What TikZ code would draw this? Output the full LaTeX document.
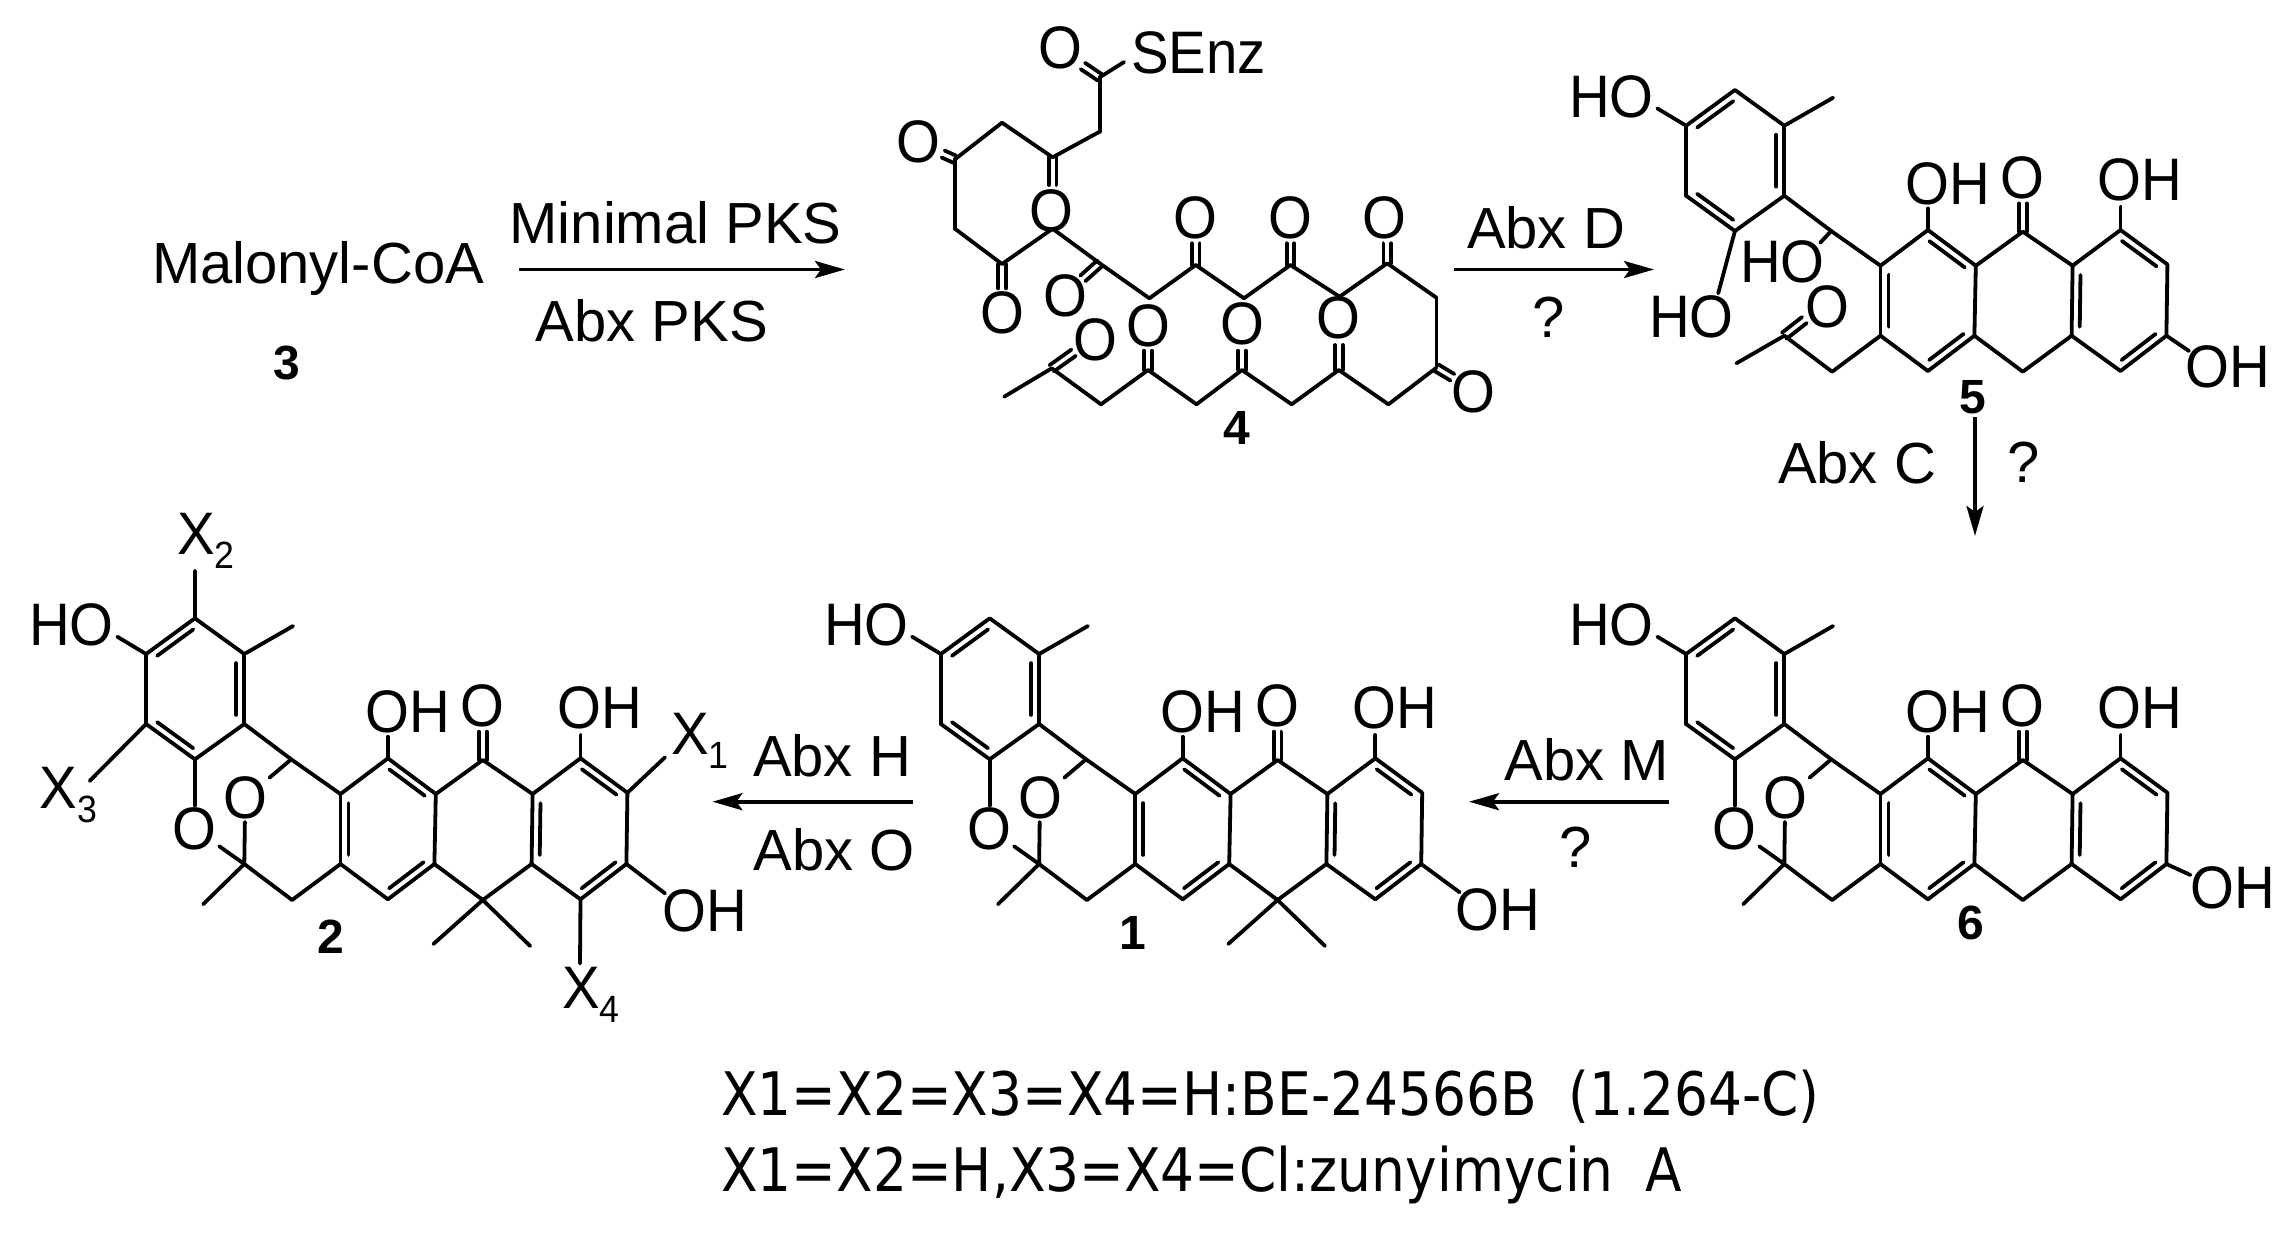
\documentclass[tikz,border=0pt]{standalone}
\usepackage{fontspec}
\setmainfont{Liberation Sans}
\newfontfamily\atomfont[FakeStretch=.94]{Liberation Sans}
\newfontfamily\notefont[FakeStretch=.89]{DejaVu Sans}
\usetikzlibrary{calc, arrows.meta, positioning}

\tikzset{
  bond/.style={line width=1.9pt, line cap=round},
  arr/.style={line width=1.9pt, -{Stealth[length=15pt,width=8.5pt,inset=3pt]}},
  atom/.style={inner sep=1pt, font=\fontsize{30}{30}\selectfont\atomfont},
  rxn/.style={anchor=base, inner sep=0pt, font=\fontsize{29}{29}\selectfont},
  qmark/.style={inner sep=0pt, font=\fontsize{29}{29}\selectfont},
  num/.style={inner sep=0pt, font=\fontsize{24}{24}\selectfont\bfseries},
  note/.style={anchor=base west, inner sep=0pt, font=\fontsize{30}{30}\selectfont\notefont},
}

\newcommand{\xsub}[1]{X\raisebox{-7pt}{\fontsize{19}{19}\selectfont #1}}
\newcommand{\dbl}[2]{\draw[bond] (#1) -- (#2);
  \draw[bond] ($(#1)!.13!(#2)!4pt!90:(#2)$) -- ($(#2)!.13!(#1)!4pt!-90:(#1)$);}
\newcommand{\cob}[2]{\draw[bond] ($(#1)!1.9pt!90:(#2)$) -- ($(#2)!1.9pt!-90:(#1)$);
  \draw[bond] ($(#1)!1.9pt!-90:(#2)$) -- ($(#2)!1.9pt!90:(#1)$);}

% shared skeleton, #1 is the prefix of the names
\newcommand{\core}[1]{
  \foreach \n/\x/\y in {r1/194.9/38.3, r2/244.3/74, r3/244.3/144, r4/194.9/179.3, r5/146.1/144, r6/146.1/74,
      ch3/293.1/46, hoend/117.3/56.7, c1/291.2/179.3, a1/340.5/214, a2/387.9/178.3, a3/435.8/214,
      b1/482.8/180, b2/532.6/214, d1/580.5/178.3, d2/627.4/212.7, d3/626.4/284, d4/580.5/319.3,
      d5/531.6/284, m/482.8/320, a4/434.4/284, a5/387.9/319.3, a6/340.5/284, ch2/292.1/320, q/244.3/284,
      ohend/387.9/156.7, coend/482.8/151.7, okend/580.5/155}
    \coordinate (#1\n) at (\x,\y);
  \dbl{#1r1}{#1r6} \dbl{#1r5}{#1r4} \dbl{#1r3}{#1r2}
  \dbl{#1a1}{#1a6} \dbl{#1a5}{#1a4} \dbl{#1a3}{#1a2}
  \dbl{#1b2}{#1d5} \dbl{#1d4}{#1d3} \dbl{#1d2}{#1d1}
  \foreach \a/\b in {r6/r5, r1/r2, r3/r4, r2/ch3, r6/hoend, r3/c1, c1/a1, a1/a2, a3/b1, b1/b2, b2/d1,
      d2/d3, d4/d5, d5/m, m/a4, a3/a4, a5/a6, a6/ch2, ch2/q, a2/ohend, d1/okend}
    \draw[bond] (#1\a) -- (#1\b);
  \cob{#1b1}{#1coend}
  \node[atom] (#1ho) at (71.5,45) {HO};
  \node[atom] (#1oha) at (408,131.7) {OH};
  \node[atom] (#1oco) at (482.8,126) {O};
  \node[atom] (#1ohd) at (600,128.3) {OH};
}
% the two ring oxygens and the methyl beside them
\newcommand{\oxa}[1]{
  \coordinate (#1me) at (203.1,324.3);
  \node[atom] (#1ou) at (245.2,218.3) {O};
  \node[atom] (#1ol) at (194.9,249) {O};
  \draw[bond] (#1c1) -- (#1ou);
  \draw[bond] (#1q) -- (#1ou);
  \draw[bond] (#1q) -- (#1ol);
  \draw[bond] (#1r4) -- (#1ol);
  \draw[bond] (#1q) -- (#1me);
}
\newcommand{\gemdi}[1]{
  \coordinate (#1me1) at (433.4,364);
  \coordinate (#1me2) at (530.2,366);
  \draw[bond] (#1m) -- (#1me1);
  \draw[bond] (#1m) -- (#1me2);
}

\begin{document}
\begin{tikzpicture}[x=.5pt,y=-.5pt]
\useasboundingbox (0,0) rectangle (2291,1233);

% malonyl-CoA and first step
\node[rxn] (malonyl) at (318,283.3) {Malonyl-CoA};
\node[num] (n3) at (286.7,363.5) {3};
\coordinate (a1s) at (518.7,269.5);
\coordinate (a1e) at (845,269.5);
\draw[arr] (a1s) -- (a1e);
\node[rxn] (minpks) at (675.6,243.3) {Minimal PKS};
\node[rxn] (abxpks) at (651.7,341.7) {Abx PKS};

% compound 4
\foreach \n/\x/\y [count=\i] in {s/1099.7/77.3, s/1099.7/131.7, s/1052.6/157.3, s/1002/122.7, s/954.9/159.3,
    s/954.9/228.7, s/1002/264, s/1052.6/228.7, s/1099.7/263.3, s/1149.4/298.3, s/1195.7/265, s/1244/298.3,
    s/1290.4/265, s/1339.6/296.7, s/1387.2/263.3, s/1436.4/297.7, s/1436.4/367.7, s/1388.4/404.3,
    s/1338.8/370, s/1291.6/404.3, s/1242/370, s/1196.5/404.3, s/1148.1/370, s/1101/404.3,
    s/1051.7/368.3, s/1004.2/396.7}
  \coordinate (\n\i) at (\x,\y);
\foreach \i [evaluate=\i as \j using int(\i+1)] in {1,...,25}
  \draw[bond] (s\i) -- (s\j);
\foreach \a/\ex/\ey/\ox/\oy [count=\i] in {1/1082.9/66/1060.1/48.3, 3/1052.6/185/1051.7/210.7,
    5/943.1/154/918.7/141.7, 7/1002/288.3/1002/312.7, 9/1082.9/278.3/1065.2/296,
    11/1195.7/243.3/1195.7/217.7, 13/1290.4/243.3/1290.4/217.7, 15/1387.2/243.3/1384.2/217.7,
    17/1452.4/377.3/1473.4/391.7, 19/1338.8/345/1338.8/318.3, 21/1242/350.7/1242/324.3,
    23/1148.1/350.7/1148.1/325.7, 25/1073.6/352.7/1095.9/340}{
  \coordinate (e\i) at (\ex,\ey);
  \node[atom] (o\i) at (\ox,\oy) {O};
  \cob{s\a}{e\i}
}
\coordinate (send) at (1124.1,62);
\draw[bond] (s1) -- (send);
\node[atom] (senz) at (1198.6,52.7) {SEnz};
\node[num] (n4) at (1236.9,428.3) {4};

% second step
\coordinate (a2s) at (1453.8,269.5);
\coordinate (a2e) at (1654,269.5);
\draw[arr] (a2s) -- (a2e);
\node[rxn] (abxd) at (1546,248) {Abx D};
\node[qmark] (q2) at (1549,317) {?};

% compound 5
\begin{scope}[shift={(1540,51.7)}]
  \core{h}
  \coordinate (hx1) at (178.2,241.6);
  \coordinate (hx2) at (280.2,191);
  \coordinate (hx3) at (196.4,311.6);
  \coordinate (hx4) at (264.4,268.3);
  \coordinate (hx5) at (649,299.3);
  \draw[bond] (hr4) -- (hx1);
  \draw[bond] (hc1) -- (hx2);
  \draw[bond] (hq) -- (hx3);
  \draw[bond] (hd3) -- (hx5);
  \cob{hq}{hx4}
  \node[atom] (hho1) at (151.3,265) {HO};
  \node[atom] (hho2) at (242.3,210) {HO};
  \node[atom] (hok) at (287.4,255) {O};
  \node[atom] (hoh) at (688,315.6) {OH};
\end{scope}
\node[num] (n5) at (1973,397) {5};

% third step
\coordinate (a3s) at (1975,417);
\coordinate (a3e) at (1975,536);
\draw[arr] (a3s) -- (a3e);
\node[qmark] (abxc) at (1857,463) {Abx C};
\node[qmark] (q3) at (2024,462) {?};

% compound 6
\begin{scope}[shift={(1540,580)}]
  \core{f}
  \oxa{f}
  \coordinate (fx1) at (650.4,295);
  \draw[bond] (fd3) -- (fx1);
  \node[atom] (foh) at (693,308) {OH};
\end{scope}
\node[num] (n6) at (1971,923) {6};

% fourth step
\coordinate (a4s) at (1669.3,801.7);
\coordinate (a4e) at (1469,801.7);
\draw[arr] (a4s) -- (a4e);
\node[rxn] (abxm) at (1587,780) {Abx M};
\node[qmark] (q4) at (1576,847) {?};

% compound 1
\begin{scope}[shift={(794.8,580)}]
  \core{e}
  \oxa{e}
  \gemdi{e}
  \coordinate (ex1) at (664.8,312.3);
  \draw[bond] (ed3) -- (ex1);
  \node[atom] (eoh) at (703,330) {OH};
\end{scope}
\node[num] (n1) at (1132.4,933) {1};

% fifth step
\coordinate (a5s) at (913,801.7);
\coordinate (a5e) at (712.4,801.7);
\draw[arr] (a5s) -- (a5e);
\node[rxn] (abxh) at (832,776.7) {Abx H};
\node[rxn] (abxo) at (834,870) {Abx O};

% compound 2
\begin{scope}[shift={(0,580)}]
  \core{t}
  \oxa{t}
  \gemdi{t}
  \coordinate (tx1) at (195,-9.3);
  \coordinate (tx2) at (89.6,201);
  \coordinate (tx3) at (665,177.3);
  \coordinate (tx4) at (665,313.4);
  \coordinate (tx5) at (580,383.5);
  \draw[bond] (tr1) -- (tx1);
  \draw[bond] (tr5) -- (tx2);
  \draw[bond] (td2) -- (tx3);
  \draw[bond] (td3) -- (tx4);
  \draw[bond] (td4) -- (tx5);
  \node[atom] (tx2l) at (206,-39.5) {\xsub{2}};
  \node[atom] (tx3l) at (68.7,215) {\xsub{3}};
  \node[atom] (tx1l) at (700,161) {\xsub{1}};
  \node[atom] (tx4l) at (591,415) {\xsub{4}};
  \node[atom] (toh) at (704.5,331) {OH};
\end{scope}
\node[num] (n2) at (331,937) {2};

% bottom lines
\node[note] (line1) at (721,1115) {X1=X2=X3=X4=H:BE-24566B\hspace{.25em} (1.264-C)};
\node[note] (line2) at (721,1191.7) {X1=X2=H,X3=X4=Cl:zunyimycin\hspace{.25em} A};
\end{tikzpicture}
\end{document}
